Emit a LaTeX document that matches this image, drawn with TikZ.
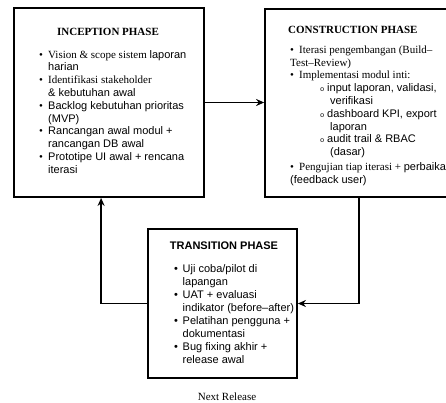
\documentclass[tikz,border=0pt]{standalone}
\usepackage{fontspec}
\setmainfont{Liberation Serif}
\setmonofont{Liberation Mono}
\newfontfamily\arialfont{Liberation Sans}
\usetikzlibrary{arrows.meta, positioning, calc}

\newcommand{\sa}[1]{{\arialfont #1}}
\newcommand{\bl}[1][9pt]{\makebox[#1][l]{\textbullet}}
\newcommand{\sbl}{\makebox[7pt][l]{{\ttfamily\fontsize{7}{7}\selectfont o}}}
\newcommand{\hang}[1][9pt]{\hspace*{#1}}

\begin{document}
\begin{tikzpicture}[x=1pt, y=-1pt, >=Stealth, font=\fontsize{11}{12.8}\selectfont,
    phasebox/.style={draw, line width=1.8pt, inner sep=0pt},
    phasetitle/.style={font=\fontsize{11}{12}\selectfont\bfseries, inner sep=0pt},
    itemlist/.style={align=left, inner sep=0pt, anchor=north west},
    flow/.style={->, line width=1.5pt, arrows={-Stealth[length=8pt, width=7pt]}}]
  \clip (0,0) rectangle (446,403);

  % phase boxes
  \node[phasebox, minimum width=190pt, minimum height=189pt] (inception) at (109,102.5) {};
  \node[phasebox, minimum width=205pt, minimum height=188pt] (construction) at (367.5,103) {};
  \node[phasebox, minimum width=149pt, minimum height=149pt] (transition) at (222.5,303.5) {};

  % titles
  \node[phasetitle, anchor=base] (inctitle) at (108,36) {INCEPTION PHASE};
  \node[phasetitle, anchor=base west] (contitle) at (288,34) {CONSTRUCTION PHASE};
  \node[phasetitle, anchor=base] (trantitle) at (224,249) {\arialfont\bfseries TRANSITION PHASE};

  % contents
  \node[itemlist] (inclist) at (39,50) {%
    \bl Vision \& scope sistem \sa{laporan}\\
    \hang\sa{harian}\\
    \bl Identifikasi stakeholder\\
    \hang\sa{\& kebutuhan awal}\\
    \bl\sa{Backlog kebutuhan prioritas}\\
    \hang\sa{(MVP)}\\
    \bl\sa{Rancangan awal modul +}\\
    \hang\sa{rancangan DB awal}\\
    \bl\sa{Prototipe UI awal + rencana}\\
    \hang\sa{iterasi}};
  \node[itemlist] (conlist) at (290,45.5) {%
    \bl Iterasi pengembangan (Build–\\
    Test–Review)\\
    \bl Implementasi modul inti:\\
    \hang[30pt]\sbl\sa{input laporan, validasi,}\\
    \hang[40pt]\sa{verifikasi}\\
    \hang[30pt]\sbl\sa{dashboard KPI, export}\\
    \hang[40pt]\sa{laporan}\\
    \hang[30pt]\sbl\sa{audit trail \& RBAC}\\
    \hang[40pt]\sa{(dasar)}\\[2pt]
    \bl Pengujian tiap iterasi + \sa{perbaikan}\\
    \sa{(feedback user)}};
  \node[itemlist, font=\fontsize{11}{13.1}\selectfont\arialfont] (tranlist) at (174,264) {%
    \bl[8.5pt]Uji coba/pilot di\\
    \hang[8.5pt]lapangan\\
    \bl[8.5pt]UAT + evaluasi\\
    \hang[8.5pt]indikator (before–after)\\
    \bl[8.5pt]Pelatihan pengguna +\\
    \hang[8.5pt]dokumentasi\\
    \bl[8.5pt]Bug fixing akhir +\\
    \hang[8.5pt]release awal};

  \node[inner sep=0pt, anchor=base] (nextrel) at (227,400) {Next Release};

  % cycle connectors
  \coordinate (cdown) at ([xshift=95pt]construction.south west);
  \coordinate (iup) at ([xshift=88pt]inception.south west);
  \draw[flow] (inception.east) -- (inception.east -| construction.west);
  \draw[flow] (cdown) |- (transition.east);
  \draw[flow] (transition.west) -| (iup);
\end{tikzpicture}
\end{document}
